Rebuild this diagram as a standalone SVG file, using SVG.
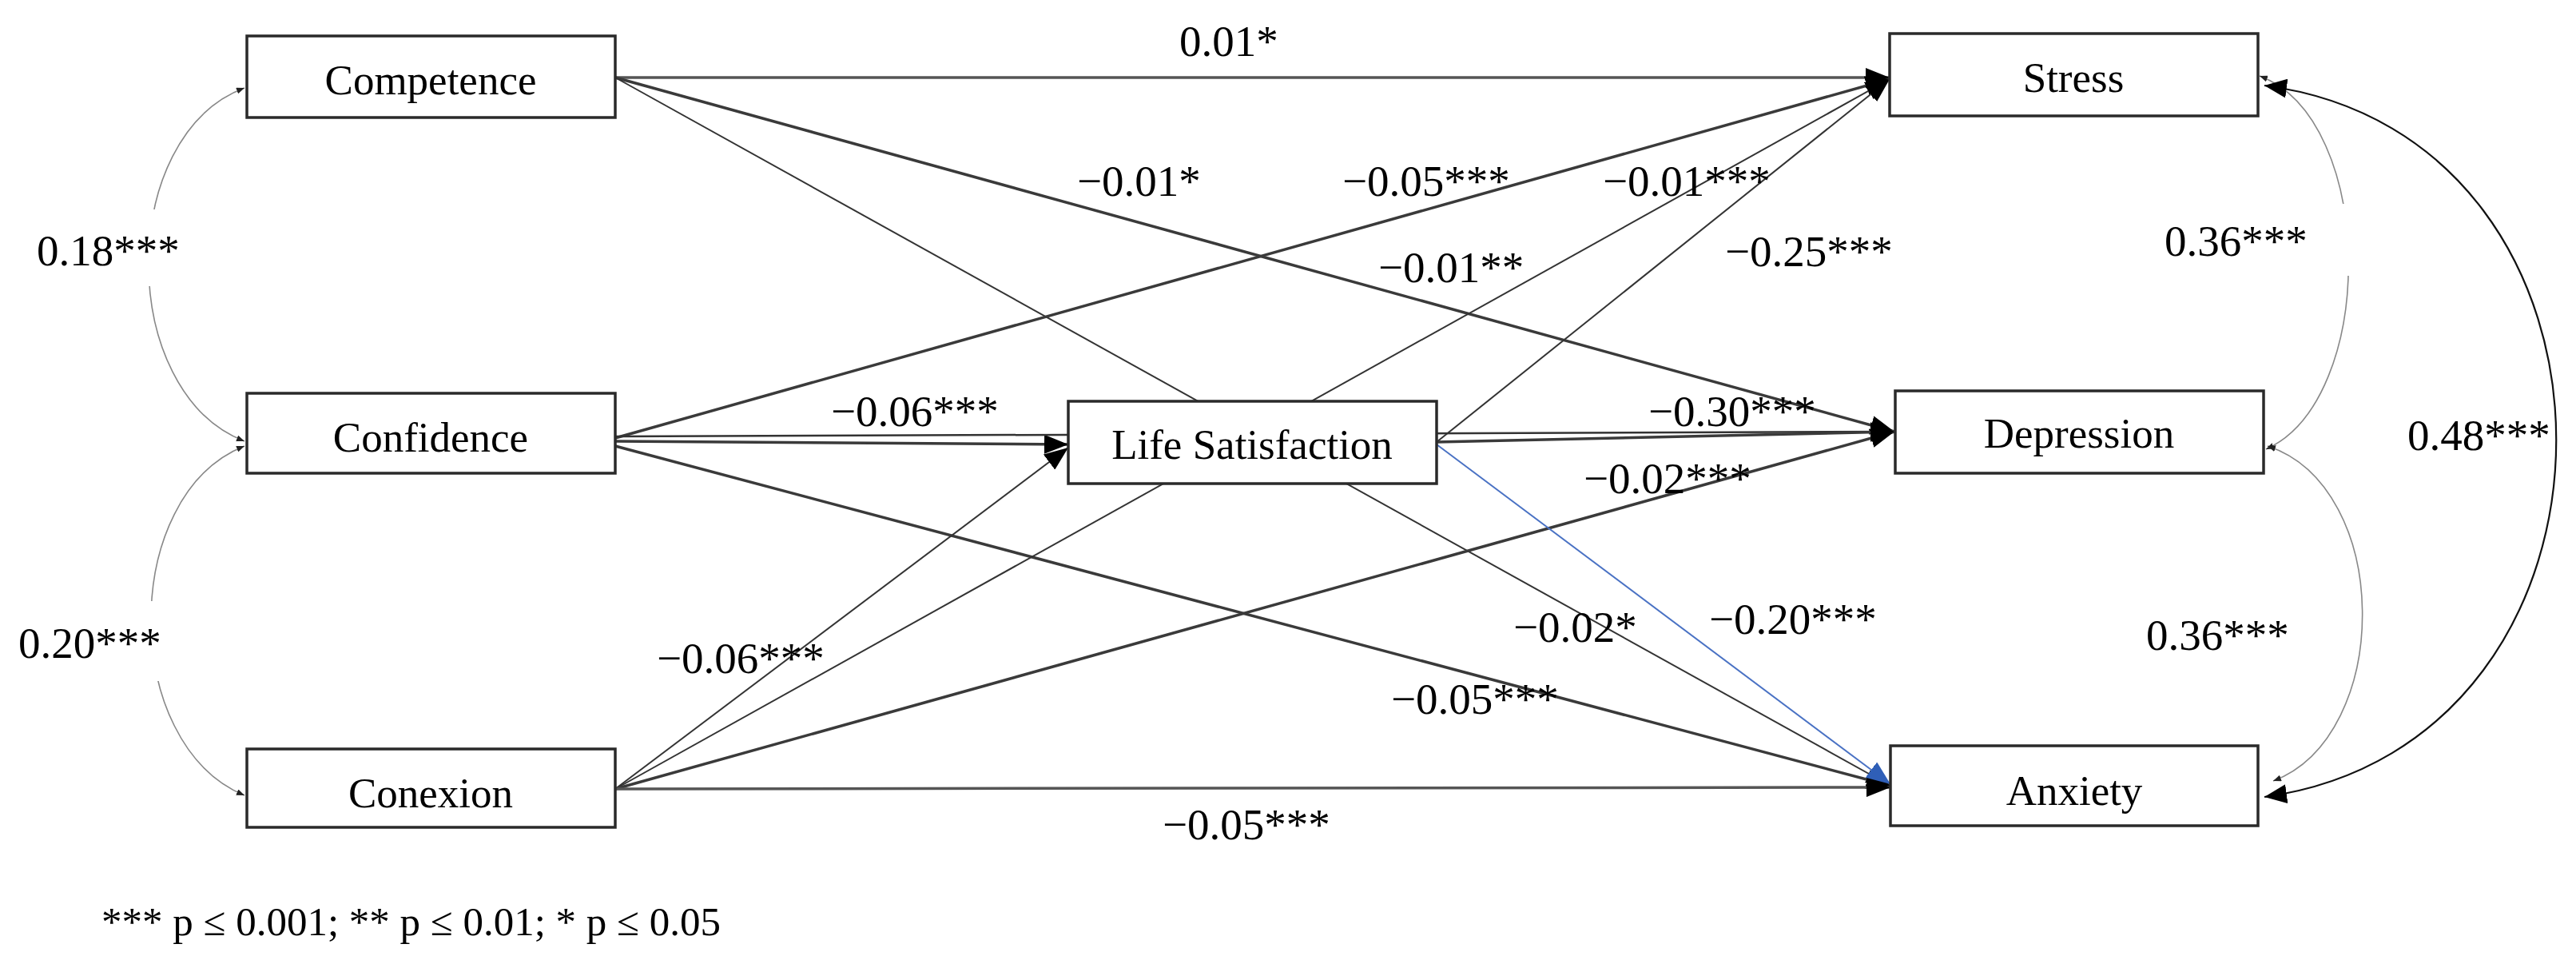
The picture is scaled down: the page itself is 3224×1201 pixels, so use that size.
<svg xmlns="http://www.w3.org/2000/svg" width="3224" height="1201" viewBox="0 0 3224 1201">
<style>
.box{fill:#fff;stroke:#2a2a2a;stroke-width:3.5}
.nt{font-family:"Liberation Serif","Times New Roman",serif;font-size:53px;fill:#000;text-anchor:middle}
.lb{font-family:"Liberation Serif","Times New Roman",serif;font-size:55px;fill:#000}
.ln{fill:none;stroke:#333;stroke-width:2.5}
.thin{fill:none;stroke:#333;stroke-width:2}
.thick{fill:none;stroke:#3a3a3a;stroke-width:3.5}
.hz{fill:none;stroke:#555;stroke-width:3.5}
.blue{fill:none;stroke:#4a72c4;stroke-width:2}
.cov{fill:none;stroke:#888;stroke-width:1.6}
.big{fill:none;stroke:#111;stroke-width:2.2}
.bg{fill:#fff}
</style>
<defs>
<marker id="ah" markerUnits="userSpaceOnUse" markerWidth="30" markerHeight="24" refX="30" refY="12" orient="auto"><path d="M0,0 L30,12 L0,24 z" fill="#000"/></marker>
<marker id="ahb" markerUnits="userSpaceOnUse" markerWidth="30" markerHeight="24" refX="30" refY="12" orient="auto"><path d="M0,0 L30,12 L0,24 z" fill="#2f5fb8"/></marker>
<marker id="sm" markerUnits="userSpaceOnUse" markerWidth="10" markerHeight="8" refX="10" refY="4" orient="auto-start-reverse"><path d="M0,0 L10,4 L0,8 z" fill="#222"/></marker>
<marker id="bg2" markerUnits="userSpaceOnUse" markerWidth="28" markerHeight="24" refX="28" refY="12" orient="auto-start-reverse"><path d="M0,0 L28,12 L0,24 z" fill="#000"/></marker>
</defs>
<g id="connectors">
<line class="hz" x1="770" y1="97" x2="2365" y2="97" marker-end="url(#ah)"/>
<line class="thick" x1="770" y1="97" x2="2371" y2="540" marker-end="url(#ah)"/>
<line class="thin" x1="770" y1="97" x2="2366" y2="983" marker-end="url(#ah)"/>
<line class="thick" x1="770" y1="548" x2="2365" y2="99" marker-end="url(#ah)"/>
<line class="thick" x1="770" y1="552" x2="1337" y2="556" marker-end="url(#ah)"/>
<line class="ln" x1="770" y1="546" x2="2371" y2="540" marker-end="url(#ah)"/>
<line class="thick" x1="770" y1="558" x2="2366" y2="983" marker-end="url(#ah)"/>
<line class="thin" x1="770" y1="987" x2="1337" y2="560" marker-end="url(#ah)"/>
<line class="thin" x1="770" y1="987" x2="2365" y2="99" marker-end="url(#ah)"/>
<line class="thick" x1="770" y1="987" x2="2371" y2="540" marker-end="url(#ah)"/>
<line class="hz" x1="770" y1="987" x2="2366" y2="985" marker-end="url(#ah)"/>
<line class="thin" x1="1798" y1="553" x2="2365" y2="99" marker-end="url(#ah)"/>
<line class="thick" x1="1798" y1="553" x2="2371" y2="540" marker-end="url(#ah)"/>
<line class="blue" x1="1798" y1="556" x2="2366" y2="981" marker-end="url(#ahb)"/>
<path class="cov" d="M306,110 C146,170 146,490 306,552" marker-start="url(#sm)" marker-end="url(#sm)"/>
<path class="cov" d="M306,558 C150,620 150,930 306,995" marker-start="url(#sm)" marker-end="url(#sm)"/>
<path class="cov" d="M2828,95 C2975,150 2975,500 2836,562" marker-start="url(#sm)" marker-end="url(#sm)"/>
<path class="cov" d="M2838,558 C2995,610 2995,920 2845,977" marker-start="url(#sm)" marker-end="url(#sm)"/>
<path class="big" d="M2834,107 C3321,170 3321,930 2834,997" marker-start="url(#bg2)" marker-end="url(#bg2)"/>
</g>
<g id="competence"><rect class="box" x="309" y="45" width="461" height="102"/><text class="nt" x="539" y="118">Competence</text></g>
<g id="confidence"><rect class="box" x="309" y="492" width="461" height="100"/><text class="nt" x="539" y="565">Confidence</text></g>
<g id="conexion"><rect class="box" x="309" y="937" width="461" height="98"/><text class="nt" x="539" y="1010">Conexion</text></g>
<g id="life-satisfaction"><rect class="box" x="1337" y="502" width="461" height="103"/><text class="nt" x="1567" y="574">Life Satisfaction</text></g>
<g id="stress"><rect class="box" x="2365" y="42" width="461" height="103"/><text class="nt" x="2595" y="115">Stress</text></g>
<g id="depression"><rect class="box" x="2372" y="489" width="461" height="103"/><text class="nt" x="2602" y="560">Depression</text></g>
<g id="anxiety"><rect class="box" x="2366" y="933" width="460" height="100"/><text class="nt" x="2596" y="1007">Anxiety</text></g>
<g id="labels">
<rect class="bg" x="40" y="262" width="192" height="96"/>
<rect class="bg" x="16" y="752" width="192" height="100"/>
<rect class="bg" x="2700" y="255" width="250" height="90"/>
<text class="lb" x="1476" y="70">0.01*</text>
<text class="lb" x="1348" y="245">−0.01*</text>
<text class="lb" x="1680" y="245">−0.05***</text>
<text class="lb" x="2006" y="245">−0.01***</text>
<text class="lb" x="1725" y="353">−0.01**</text>
<text class="lb" x="2159" y="333">−0.25***</text>
<text class="lb" x="1040" y="533">−0.06***</text>
<text class="lb" x="2063" y="533">−0.30***</text>
<text class="lb" x="1982" y="617">−0.02***</text>
<text class="lb" x="1894" y="803">−0.02*</text>
<text class="lb" x="2139" y="793">−0.20***</text>
<text class="lb" x="822" y="842">−0.06***</text>
<text class="lb" x="1741" y="893">−0.05***</text>
<text class="lb" x="1455" y="1050">−0.05***</text>
<text class="lb" x="46" y="332">0.18***</text>
<text class="lb" x="23" y="823">0.20***</text>
<text class="lb" x="2709" y="320">0.36***</text>
<text class="lb" x="2686" y="813">0.36***</text>
<text class="lb" x="3013" y="563">0.48***</text>
<text class="lb" x="127" y="1170" style="font-size:50px" textLength="775" lengthAdjust="spacingAndGlyphs">*** p ≤ 0.001; ** p ≤ 0.01; * p ≤ 0.05</text>
</g>
</svg>
